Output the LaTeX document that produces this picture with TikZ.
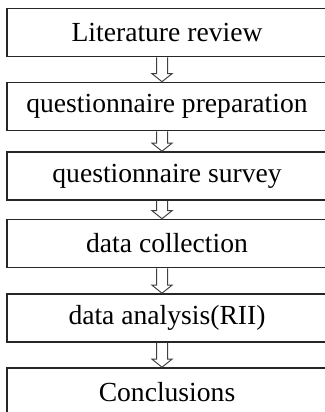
\documentclass[tikz,border=0pt]{standalone}
\usepackage{fontspec}
\setmainfont{Liberation Serif}
\usetikzlibrary{calc}

% hollow block arrow from the bottom of #1 to the top of #2
\newcommand{\flowarrow}[2]{%
  \draw[arrowline] ($(#1.south)+(-10.5,0)$) -- ($(#2.north)+(-10.5,-8)$)
    -- ($(#2.north)+(-15,-8)$) -- ($(#2.north)+(-5,0)$)
    -- ($(#2.north)+(5,-8)$) -- ($(#2.north)+(0.5,-8)$)
    -- ($(#1.south)+(0.5,0)$);}

\begin{document}
\begin{tikzpicture}[x=0.5pt,y=-0.5pt,
  stage/.style={draw=black!85,line width=0.8pt,fill=white,inner sep=0pt,
    minimum width=160pt,minimum height=24pt,
    font=\fontsize{13.8}{16}\selectfont},
  arrowline/.style={draw=black!75,line width=0.5pt,line join=miter}]

  \useasboundingbox (0,0) rectangle (325,412);
  \clip (0,0) rectangle (325,412);

  \draw (167,32.5) node[stage] (lit) {Literature review};
  \draw (167,106.5) node[stage] (prep) {questionnaire preparation};
  \draw (167,176) node[stage] (survey) {questionnaire survey};
  \draw (167,243.5) node[stage] (collect) {data collection};
  \draw (167,318) node[stage] (analysis) {data analysis(RII)};
  \draw (167,392) node[stage] (concl) {Conclusions};

  \flowarrow{lit}{prep}
  \flowarrow{prep}{survey}
  \flowarrow{survey}{collect}
  \flowarrow{collect}{analysis}
  \flowarrow{analysis}{concl}

\end{tikzpicture}
\end{document}
